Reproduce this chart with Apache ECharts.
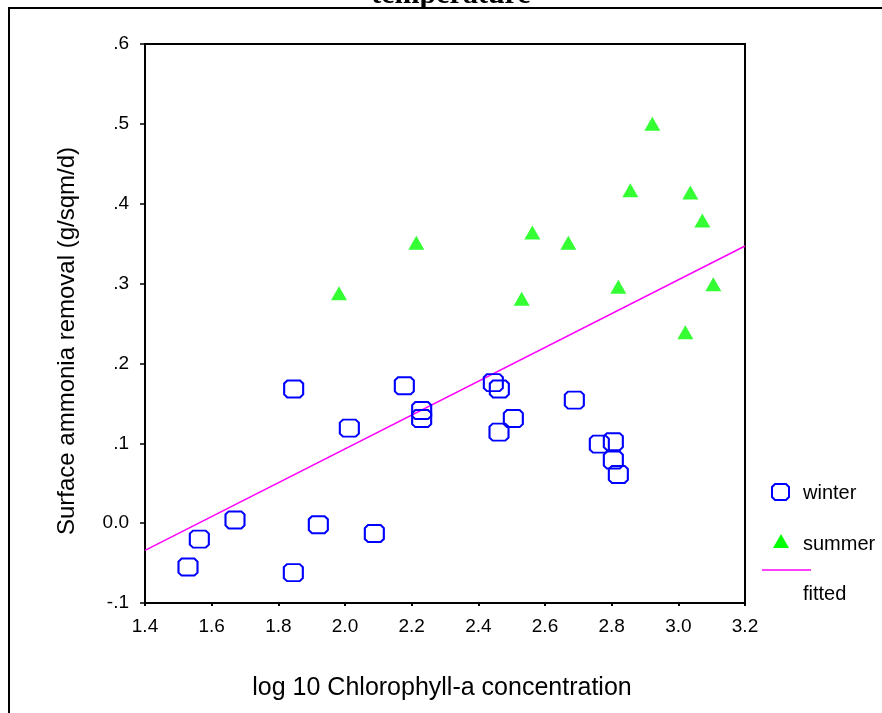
<!DOCTYPE html>
<html>
<head>
<meta charset="utf-8">
<script src="https://cdn.jsdelivr.net/npm/echarts@6/dist/echarts.min.js"></script>
<style>
html,body{margin:0;padding:0;background:#fff;}
#chart{width:882px;height:713px;}
</style>
</head>
<body>
<div id="chart"></div>
<script>
var titleText = 'temperature';
var xAxisTitle = 'log 10 Chlorophyll-a concentration';
var yAxisTitle = 'Surface ammonia removal (g/sqm/d)';
var seriesNames = ['winter', 'summer', 'fitted'];

var winterX = [1.529, 1.563, 1.670, 1.845, 1.846, 1.920, 2.013, 2.088, 2.178, 2.230, 2.230, 2.445, 2.463, 2.462, 2.505, 2.688, 2.763, 2.805, 2.805, 2.820];
var winterY = [-0.055, -0.020, 0.004, -0.062, 0.168, -0.002, 0.119, -0.013, 0.172, 0.141, 0.131, 0.176, 0.168, 0.114, 0.131, 0.154, 0.099, 0.102, 0.079, 0.061];

var summerX = [1.982, 2.214, 2.530, 2.562, 2.670, 2.820, 2.856, 2.922, 3.021, 3.036, 3.072, 3.105];
var summerY = [0.288, 0.351, 0.281, 0.364, 0.351, 0.296, 0.417, 0.500, 0.239, 0.414, 0.379, 0.299];

var fittedX = [1.4, 3.2];
var fittedY = [-0.034, 0.347];

var xTickLabels = {'1.4':'1.4','1.6':'1.6','1.8':'1.8','2.0':'2.0','2.2':'2.2','2.4':'2.4','2.6':'2.6','2.8':'2.8','3.0':'3.0','3.2':'3.2'};
var yTickLabels = {'-0.1':'-.1','0.0':'0.0','0.1':'.1','0.2':'.2','0.3':'.3','0.4':'.4','0.5':'.5','0.6':'.6'};

function zip(a, b) { return a.map(function (v, i) { return [v, b[i]]; }); }

var chart = echarts.init(document.getElementById('chart'), null, {renderer: 'canvas'});
var FONT = 'Liberation Sans, Arial, sans-serif';
var octagon = 'path://M3,0 L15,0 L18,3 L18,14 L15,17 L3,17 L0,14 L0,3 Z';
function octPoints(x, y) {
  return [[x + 3, y], [x + 14, y], [x + 17, y + 3], [x + 17, y + 13], [x + 14, y + 16], [x + 3, y + 16], [x, y + 13], [x, y + 3]];
}

chart.setOption({
  animation: false,
  backgroundColor: '#fff',
  grid: {left: 145, right: 137, top: 44, bottom: 110, show: true, borderColor: '#000', borderWidth: 2, backgroundColor: 'transparent'},
  xAxis: {
    type: 'value', min: 1.4, max: 3.2, interval: 0.2,
    axisLine: {show: true, onZero: false, lineStyle: {color: '#000', width: 2}},
    axisTick: {show: true, length: 3, lineStyle: {color: '#000', width: 2}},
    splitLine: {show: false},
    axisLabel: {color: '#000', fontFamily: FONT, fontSize: 19, margin: 14,
      formatter: function (v) { var k = v.toFixed(1); return xTickLabels[k] !== undefined ? xTickLabels[k] : k; }}
  },
  yAxis: {
    type: 'value', min: -0.1, max: 0.6, interval: 0.1,
    axisLine: {show: true, onZero: false, lineStyle: {color: '#000', width: 2}},
    axisTick: {show: true, length: 5, lineStyle: {color: '#000', width: 1.5}},
    splitLine: {show: false},
    axisLabel: {color: '#000', fontFamily: FONT, fontSize: 19, margin: 16,
      formatter: function (v) { var k = v.toFixed(1); if (k === '-0.0') k = '0.0'; return yTickLabels[k] !== undefined ? yTickLabels[k] : k; }}
  },
  series: [
    {name: seriesNames[2], type: 'line', data: zip(fittedX, fittedY), showSymbol: false, symbol: 'none',
      lineStyle: {color: '#ff00ff', width: 1.5}, z: 3},
    {name: seriesNames[0], type: 'scatter', data: zip(winterX, winterY), symbol: octagon, symbolSize: [19, 17],
      itemStyle: {color: 'rgba(0,0,0,0)', borderColor: '#0000ff', borderWidth: 2, opacity: 1}, z: 4},
    {name: seriesNames[1], type: 'scatter', data: zip(summerX, summerY), symbol: 'triangle', symbolSize: [16, 14],
      itemStyle: {color: '#00ff00'}, z: 4}
  ],
  graphic: [
    {type: 'rect', shape: {x: 9, y: 8, width: 900, height: 800}, style: {fill: 'none', stroke: '#000', lineWidth: 2}, silent: true},
    {type: 'text', x: 451, y: -5, style: {text: titleText, font: 'bold 30px "Liberation Serif", "Times New Roman", serif', fill: '#000', align: 'center', verticalAlign: 'middle'}},
    {type: 'text', x: 442, y: 688, style: {text: xAxisTitle, font: '25px ' + FONT, fill: '#000', align: 'center', verticalAlign: 'middle'}},
    {type: 'text', x: 67, y: 341, rotation: Math.PI / 2, style: {text: yAxisTitle, font: '24px ' + FONT, fill: '#000', align: 'center', verticalAlign: 'middle'}},
    {type: 'polygon', shape: {points: octPoints(772, 484)}, style: {fill: 'none', stroke: '#0000ff', lineWidth: 2}},
    {type: 'text', x: 803, y: 493, style: {text: seriesNames[0], font: '20px ' + FONT, fill: '#000', verticalAlign: 'middle'}},
    {type: 'polygon', shape: {points: [[781, 534], [789, 548], [773, 548]]}, style: {fill: '#00ff00'}},
    {type: 'text', x: 803, y: 544, style: {text: seriesNames[1], font: '20px ' + FONT, fill: '#000', verticalAlign: 'middle'}},
    {type: 'line', shape: {x1: 762, y1: 570, x2: 811, y2: 570}, style: {stroke: '#ff00ff', lineWidth: 1.5}},
    {type: 'text', x: 803, y: 594, style: {text: seriesNames[2], font: '20px ' + FONT, fill: '#000', verticalAlign: 'middle'}}
  ]
});
</script>
</body>
</html>
